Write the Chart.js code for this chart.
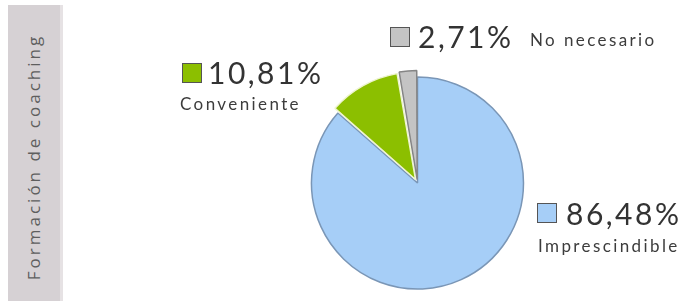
<!DOCTYPE html>
<html>
<head>
<meta charset="utf-8">
<script src="https://cdn.jsdelivr.net/npm/chart.js@4.4.0/dist/chart.umd.min.js"></script>
<style>
    body { margin: 0; background: #fff; }
    #wrap { position: relative; width: 681px; height: 301px; overflow: hidden; font-family: Lato, "Open Sans", sans-serif; }
    #side { position: absolute; left: 8px; top: 5px; width: 52px; height: 296px; background: #d6d1d4; border-right: 3px solid #e6e2e4; }
    #sideText { position: absolute; left: 33px; top: 157px; transform: translate(-50%, -50%) rotate(-90deg);
        white-space: nowrap; color: #5e5e5e; font-family: "Open Sans", sans-serif; font-size: 17px; letter-spacing: 3px; }
    canvas { position: absolute; left: 0; top: 0; }
    .lbl { position: absolute; white-space: nowrap; color: #333; line-height: 1; }
    .sq { position: absolute; width: 18px; height: 18px; border: 1px solid #555; }
    .pct { font-size: 30px; letter-spacing: 2.5px; }
    .name { font-size: 17px; letter-spacing: 2.4px; color: #3c3c3c; }
</style>
</head>
<body>
<div id="wrap">
    <div id="side"></div>
    <div id="sideText">Formación de coaching</div>
    <canvas id="myChart" width="681" height="301"></canvas>
</div>
<script>
var categories = ["Imprescindible", "Conveniente", "No necesario"];
var values = [86.48, 10.81, 2.71];
var percentLabels = ["86,48%", "10,81%", "2,71%"];
var sliceColors = ["#a6cef7", "#8cbf00", "#c4c4c4"];
var borderColors = ["#7a96b6", "#eef4d0", "#858585"];
var sliceOffsets = [0, 16, 14];

// label layout: square, percent text, category name (px)
var labelLayout = [
    { sq: [537, 203], pct: [566, 198], name: [538, 237] },
    { sq: [182, 63], pct: [208, 57], name: [180, 95] },
    { sq: [390, 27], pct: [418, 21], name: [530, 31] }
];

function addLabels() {
    var wrap = document.getElementById("wrap");
    categories.forEach(function (cat, i) {
        var pos = labelLayout[i];

        var sq = document.createElement("div");
        sq.className = "sq";
        sq.style.left = pos.sq[0] + "px";
        sq.style.top = pos.sq[1] + "px";
        sq.style.background = sliceColors[i];
        wrap.appendChild(sq);

        var pct = document.createElement("div");
        pct.className = "lbl pct";
        pct.style.left = pos.pct[0] + "px";
        pct.style.top = pos.pct[1] + "px";
        pct.textContent = percentLabels[i];
        wrap.appendChild(pct);

        var name = document.createElement("div");
        name.className = "lbl name";
        name.style.left = pos.name[0] + "px";
        name.style.top = pos.name[1] + "px";
        name.textContent = cat;
        wrap.appendChild(name);
    });
}

var ctx = document.getElementById("myChart");
new Chart(ctx, {
    type: "pie",
    data: {
        labels: categories,
        datasets: [{
            data: values,
            backgroundColor: sliceColors,
            borderColor: borderColors,
            borderWidth: [1.5, 1.5, 1.5],
            offset: sliceOffsets,
            radius: 106
        }]
    },
    options: {
        responsive: false,
        animation: false,
        layout: { padding: { left: 260, right: 106, top: 65, bottom: 0 } },
        plugins: {
            legend: { display: false },
            tooltip: { enabled: false }
        }
    }
});

addLabels();
</script>
</body>
</html>
